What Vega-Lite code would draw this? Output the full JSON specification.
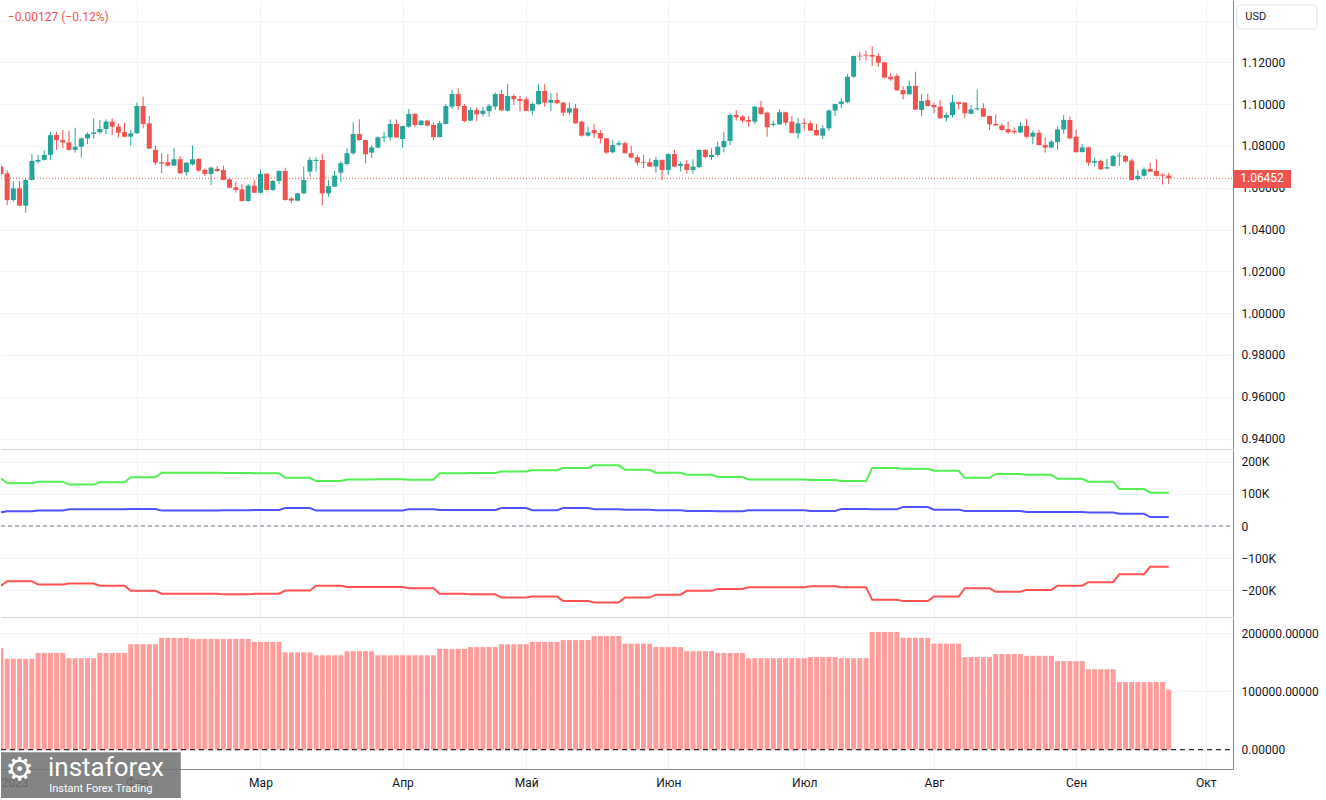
{
"$schema":"https://vega.github.io/schema/vega-lite/v6.json",
"padding":0,
"background":"white",
"spacing":1,
"config":{"view":{"stroke":null},"axis":{"labelFont":"Roboto","labelFontSize":12,"labelColor":"#131722"},"text":{"font":"Roboto"}},
"datasets":{"bars":[
{"i":0,"o":1.0701,"h":1.0713,"l":1.0661,"c":1.0666,"g":149,"b":43,"r":-186,"v":174},
{"i":1,"o":1.0669,"h":1.0683,"l":1.0517,"c":1.0541,"g":133,"b":46,"r":-172,"v":156},
{"i":2,"o":1.0541,"h":1.0632,"l":1.0533,"c":1.0597,"g":133,"b":46,"r":-172,"v":156},
{"i":3,"o":1.0597,"h":1.0632,"l":1.0512,"c":1.0514,"g":133,"b":46,"r":-172,"v":156},
{"i":4,"o":1.0514,"h":1.0645,"l":1.0480,"c":1.0637,"g":133,"b":46,"r":-172,"v":156},
{"i":5,"o":1.0637,"h":1.0761,"l":1.0635,"c":1.0728,"g":133,"b":46,"r":-172,"v":156},
{"i":6,"o":1.0725,"h":1.0757,"l":1.0717,"c":1.0733,"g":138,"b":48,"r":-182,"v":166},
{"i":7,"o":1.0733,"h":1.0778,"l":1.0730,"c":1.0757,"g":138,"b":48,"r":-182,"v":166},
{"i":8,"o":1.0757,"h":1.0868,"l":1.0733,"c":1.0852,"g":138,"b":48,"r":-182,"v":166},
{"i":9,"o":1.0852,"h":1.0868,"l":1.0781,"c":1.0828,"g":138,"b":48,"r":-182,"v":166},
{"i":10,"o":1.0828,"h":1.0876,"l":1.0789,"c":1.0816,"g":138,"b":48,"r":-182,"v":166},
{"i":11,"o":1.0817,"h":1.0873,"l":1.0777,"c":1.0781,"g":129,"b":52,"r":-179,"v":157},
{"i":12,"o":1.0781,"h":1.0887,"l":1.0768,"c":1.0796,"g":129,"b":52,"r":-179,"v":157},
{"i":13,"o":1.0796,"h":1.0841,"l":1.0744,"c":1.0836,"g":129,"b":52,"r":-179,"v":157},
{"i":14,"o":1.0836,"h":1.0865,"l":1.0808,"c":1.0857,"g":129,"b":52,"r":-179,"v":157},
{"i":15,"o":1.0857,"h":1.0932,"l":1.0836,"c":1.0864,"g":129,"b":52,"r":-179,"v":157},
{"i":16,"o":1.0865,"h":1.0924,"l":1.0857,"c":1.0881,"g":136,"b":52,"r":-186,"v":166},
{"i":17,"o":1.0881,"h":1.0927,"l":1.0857,"c":1.0916,"g":136,"b":52,"r":-186,"v":166},
{"i":18,"o":1.0916,"h":1.0932,"l":1.0852,"c":1.0892,"g":136,"b":52,"r":-186,"v":166},
{"i":19,"o":1.0892,"h":1.0908,"l":1.0841,"c":1.0863,"g":136,"b":52,"r":-186,"v":166},
{"i":20,"o":1.0866,"h":1.0911,"l":1.0841,"c":1.0844,"g":136,"b":52,"r":-186,"v":166},
{"i":21,"o":1.0844,"h":1.0876,"l":1.0800,"c":1.0860,"g":152,"b":53,"r":-202,"v":181},
{"i":22,"o":1.0860,"h":1.1007,"l":1.0858,"c":1.0991,"g":152,"b":53,"r":-202,"v":181},
{"i":23,"o":1.0991,"h":1.1036,"l":1.0884,"c":1.0905,"g":152,"b":53,"r":-202,"v":181},
{"i":24,"o":1.0908,"h":1.0943,"l":1.0785,"c":1.0787,"g":152,"b":53,"r":-202,"v":181},
{"i":25,"o":1.0781,"h":1.0801,"l":1.0709,"c":1.0720,"g":152,"b":53,"r":-202,"v":181},
{"i":26,"o":1.0722,"h":1.0765,"l":1.0669,"c":1.0716,"g":166,"b":48,"r":-211,"v":192},
{"i":27,"o":1.0722,"h":1.0761,"l":1.0701,"c":1.0706,"g":166,"b":48,"r":-211,"v":192},
{"i":28,"o":1.0706,"h":1.0790,"l":1.0705,"c":1.0736,"g":166,"b":48,"r":-211,"v":192},
{"i":29,"o":1.0736,"h":1.0752,"l":1.0666,"c":1.0669,"g":166,"b":48,"r":-211,"v":192},
{"i":30,"o":1.0674,"h":1.0722,"l":1.0657,"c":1.0720,"g":166,"b":48,"r":-211,"v":192},
{"i":31,"o":1.0712,"h":1.0803,"l":1.0706,"c":1.0736,"g":166,"b":48,"r":-211,"v":190},
{"i":32,"o":1.0738,"h":1.0741,"l":1.0677,"c":1.0682,"g":166,"b":48,"r":-211,"v":190},
{"i":33,"o":1.0685,"h":1.0693,"l":1.0656,"c":1.0666,"g":166,"b":48,"r":-211,"v":190},
{"i":34,"o":1.0666,"h":1.0701,"l":1.0613,"c":1.0696,"g":166,"b":48,"r":-211,"v":190},
{"i":35,"o":1.0690,"h":1.0704,"l":1.0675,"c":1.0680,"g":166,"b":48,"r":-211,"v":190},
{"i":36,"o":1.0685,"h":1.0706,"l":1.0635,"c":1.0637,"g":165,"b":49,"r":-213,"v":190},
{"i":37,"o":1.0640,"h":1.0642,"l":1.0598,"c":1.0600,"g":165,"b":49,"r":-213,"v":190},
{"i":38,"o":1.0602,"h":1.0629,"l":1.0576,"c":1.0589,"g":165,"b":49,"r":-213,"v":190},
{"i":39,"o":1.0592,"h":1.0616,"l":1.0534,"c":1.0536,"g":165,"b":49,"r":-213,"v":190},
{"i":40,"o":1.0536,"h":1.0618,"l":1.0533,"c":1.0610,"g":165,"b":49,"r":-213,"v":190},
{"i":41,"o":1.0610,"h":1.0637,"l":1.0574,"c":1.0576,"g":164,"b":50,"r":-211,"v":185},
{"i":42,"o":1.0576,"h":1.0688,"l":1.0573,"c":1.0666,"g":164,"b":50,"r":-211,"v":185},
{"i":43,"o":1.0667,"h":1.0669,"l":1.0586,"c":1.0589,"g":164,"b":50,"r":-211,"v":185},
{"i":44,"o":1.0589,"h":1.0637,"l":1.0586,"c":1.0632,"g":164,"b":50,"r":-211,"v":185},
{"i":45,"o":1.0632,"h":1.0682,"l":1.0618,"c":1.0680,"g":164,"b":50,"r":-211,"v":185},
{"i":46,"o":1.0680,"h":1.0696,"l":1.0539,"c":1.0541,"g":150,"b":56,"r":-201,"v":167},
{"i":47,"o":1.0548,"h":1.0557,"l":1.0525,"c":1.0538,"g":150,"b":56,"r":-201,"v":167},
{"i":48,"o":1.0538,"h":1.0576,"l":1.0535,"c":1.0573,"g":150,"b":56,"r":-201,"v":167},
{"i":49,"o":1.0573,"h":1.0701,"l":1.0570,"c":1.0637,"g":150,"b":56,"r":-201,"v":167},
{"i":50,"o":1.0677,"h":1.0746,"l":1.0653,"c":1.0733,"g":150,"b":56,"r":-201,"v":167},
{"i":51,"o":1.0728,"h":1.0746,"l":1.0677,"c":1.0733,"g":140,"b":48,"r":-186,"v":162},
{"i":52,"o":1.0733,"h":1.0761,"l":1.0516,"c":1.0573,"g":140,"b":48,"r":-186,"v":162},
{"i":53,"o":1.0573,"h":1.0637,"l":1.0557,"c":1.0608,"g":140,"b":48,"r":-186,"v":162},
{"i":54,"o":1.0605,"h":1.0682,"l":1.0605,"c":1.0658,"g":140,"b":48,"r":-186,"v":162},
{"i":55,"o":1.0672,"h":1.0728,"l":1.0629,"c":1.0717,"g":140,"b":48,"r":-186,"v":162},
{"i":56,"o":1.0714,"h":1.0789,"l":1.0705,"c":1.0765,"g":145,"b":48,"r":-190,"v":169},
{"i":57,"o":1.0765,"h":1.0913,"l":1.0757,"c":1.0857,"g":145,"b":48,"r":-190,"v":169},
{"i":58,"o":1.0857,"h":1.0927,"l":1.0825,"c":1.0828,"g":145,"b":48,"r":-190,"v":169},
{"i":59,"o":1.0828,"h":1.0830,"l":1.0717,"c":1.0760,"g":145,"b":48,"r":-190,"v":169},
{"i":60,"o":1.0768,"h":1.0804,"l":1.0743,"c":1.0793,"g":145,"b":48,"r":-190,"v":169},
{"i":61,"o":1.0792,"h":1.0847,"l":1.0789,"c":1.0841,"g":146,"b":48,"r":-190,"v":162},
{"i":62,"o":1.0839,"h":1.0868,"l":1.0819,"c":1.0844,"g":146,"b":48,"r":-190,"v":162},
{"i":63,"o":1.0841,"h":1.0927,"l":1.0825,"c":1.0905,"g":146,"b":48,"r":-190,"v":162},
{"i":64,"o":1.0905,"h":1.0927,"l":1.0839,"c":1.0841,"g":146,"b":48,"r":-190,"v":162},
{"i":65,"o":1.0833,"h":1.0897,"l":1.0792,"c":1.0895,"g":146,"b":48,"r":-190,"v":162},
{"i":66,"o":1.0892,"h":1.0977,"l":1.0887,"c":1.0953,"g":144,"b":52,"r":-194,"v":162},
{"i":67,"o":1.0953,"h":1.0957,"l":1.0889,"c":1.0900,"g":144,"b":52,"r":-194,"v":162},
{"i":68,"o":1.0900,"h":1.0923,"l":1.0897,"c":1.0921,"g":144,"b":52,"r":-194,"v":162},
{"i":69,"o":1.0921,"h":1.0924,"l":1.0892,"c":1.0897,"g":144,"b":52,"r":-194,"v":162},
{"i":70,"o":1.0900,"h":1.0913,"l":1.0828,"c":1.0842,"g":144,"b":52,"r":-194,"v":162},
{"i":71,"o":1.0842,"h":1.0921,"l":1.0840,"c":1.0908,"g":164,"b":50,"r":-211,"v":173},
{"i":72,"o":1.0905,"h":1.1001,"l":1.0903,"c":1.0991,"g":164,"b":50,"r":-211,"v":173},
{"i":73,"o":1.0988,"h":1.1068,"l":1.0977,"c":1.1048,"g":164,"b":50,"r":-211,"v":173},
{"i":74,"o":1.1048,"h":1.1076,"l":1.0972,"c":1.0991,"g":164,"b":50,"r":-211,"v":173},
{"i":75,"o":1.0991,"h":1.1001,"l":1.0913,"c":1.0919,"g":164,"b":50,"r":-211,"v":173},
{"i":76,"o":1.0921,"h":1.0985,"l":1.0919,"c":1.0972,"g":165,"b":50,"r":-213,"v":176},
{"i":77,"o":1.0972,"h":1.0985,"l":1.0919,"c":1.0951,"g":165,"b":50,"r":-213,"v":176},
{"i":78,"o":1.0953,"h":1.0987,"l":1.0940,"c":1.0968,"g":165,"b":50,"r":-213,"v":176},
{"i":79,"o":1.0966,"h":1.1001,"l":1.0940,"c":1.0992,"g":165,"b":50,"r":-213,"v":176},
{"i":80,"o":1.0988,"h":1.1055,"l":1.0972,"c":1.1048,"g":165,"b":50,"r":-213,"v":176},
{"i":81,"o":1.1048,"h":1.1068,"l":1.0968,"c":1.0970,"g":170,"b":56,"r":-223,"v":181},
{"i":82,"o":1.0968,"h":1.1096,"l":1.0966,"c":1.1039,"g":170,"b":56,"r":-223,"v":181},
{"i":83,"o":1.1039,"h":1.1048,"l":1.0996,"c":1.1023,"g":170,"b":56,"r":-223,"v":181},
{"i":84,"o":1.1025,"h":1.1039,"l":1.0964,"c":1.1015,"g":170,"b":56,"r":-223,"v":181},
{"i":85,"o":1.1023,"h":1.1036,"l":1.0966,"c":1.0968,"g":170,"b":56,"r":-223,"v":181},
{"i":86,"o":1.0968,"h":1.1007,"l":1.0948,"c":1.1001,"g":174,"b":49,"r":-220,"v":185},
{"i":87,"o":1.1000,"h":1.1096,"l":1.0996,"c":1.1063,"g":174,"b":49,"r":-220,"v":185},
{"i":88,"o":1.1063,"h":1.1096,"l":1.0988,"c":1.1007,"g":174,"b":49,"r":-220,"v":185},
{"i":89,"o":1.1007,"h":1.1052,"l":1.0968,"c":1.1020,"g":174,"b":49,"r":-220,"v":185},
{"i":90,"o":1.1020,"h":1.1055,"l":1.1001,"c":1.1004,"g":174,"b":49,"r":-220,"v":185},
{"i":91,"o":1.1007,"h":1.1009,"l":1.0943,"c":1.0959,"g":181,"b":56,"r":-234,"v":188},
{"i":92,"o":1.0959,"h":1.1007,"l":1.0948,"c":1.0980,"g":181,"b":56,"r":-234,"v":188},
{"i":93,"o":1.0980,"h":1.1001,"l":1.0906,"c":1.0908,"g":181,"b":56,"r":-234,"v":188},
{"i":94,"o":1.0916,"h":1.0920,"l":1.0844,"c":1.0849,"g":181,"b":56,"r":-234,"v":188},
{"i":95,"o":1.0849,"h":1.0892,"l":1.0844,"c":1.0865,"g":181,"b":56,"r":-234,"v":188},
{"i":96,"o":1.0876,"h":1.0905,"l":1.0838,"c":1.0860,"g":189,"b":52,"r":-238,"v":195},
{"i":97,"o":1.0862,"h":1.0876,"l":1.0812,"c":1.0836,"g":189,"b":52,"r":-238,"v":195},
{"i":98,"o":1.0836,"h":1.0838,"l":1.0763,"c":1.0768,"g":189,"b":52,"r":-238,"v":195},
{"i":99,"o":1.0770,"h":1.0828,"l":1.0765,"c":1.0804,"g":189,"b":52,"r":-238,"v":195},
{"i":100,"o":1.0806,"h":1.0825,"l":1.0800,"c":1.0813,"g":189,"b":52,"r":-238,"v":195},
{"i":101,"o":1.0813,"h":1.0820,"l":1.0763,"c":1.0765,"g":175,"b":51,"r":-223,"v":182},
{"i":102,"o":1.0765,"h":1.0800,"l":1.0741,"c":1.0744,"g":175,"b":51,"r":-223,"v":182},
{"i":103,"o":1.0746,"h":1.0757,"l":1.0706,"c":1.0720,"g":175,"b":51,"r":-223,"v":182},
{"i":104,"o":1.0724,"h":1.0757,"l":1.0693,"c":1.0720,"g":175,"b":51,"r":-223,"v":182},
{"i":105,"o":1.0722,"h":1.0741,"l":1.0699,"c":1.0701,"g":175,"b":51,"r":-223,"v":182},
{"i":106,"o":1.0701,"h":1.0749,"l":1.0672,"c":1.0733,"g":166,"b":49,"r":-214,"v":176},
{"i":107,"o":1.0733,"h":1.0735,"l":1.0635,"c":1.0685,"g":166,"b":49,"r":-214,"v":176},
{"i":108,"o":1.0685,"h":1.0765,"l":1.0661,"c":1.0761,"g":166,"b":49,"r":-214,"v":176},
{"i":109,"o":1.0761,"h":1.0781,"l":1.0700,"c":1.0701,"g":166,"b":49,"r":-214,"v":176},
{"i":110,"o":1.0704,"h":1.0725,"l":1.0677,"c":1.0714,"g":166,"b":49,"r":-214,"v":176},
{"i":111,"o":1.0714,"h":1.0733,"l":1.0666,"c":1.0685,"g":160,"b":47,"r":-202,"v":169},
{"i":112,"o":1.0685,"h":1.0736,"l":1.0666,"c":1.0701,"g":160,"b":47,"r":-202,"v":169},
{"i":113,"o":1.0698,"h":1.0784,"l":1.0693,"c":1.0781,"g":160,"b":47,"r":-202,"v":169},
{"i":114,"o":1.0781,"h":1.0785,"l":1.0741,"c":1.0747,"g":160,"b":47,"r":-202,"v":169},
{"i":115,"o":1.0747,"h":1.0788,"l":1.0733,"c":1.0757,"g":160,"b":47,"r":-202,"v":169},
{"i":116,"o":1.0757,"h":1.0820,"l":1.0749,"c":1.0796,"g":153,"b":46,"r":-196,"v":166},
{"i":117,"o":1.0794,"h":1.0868,"l":1.0769,"c":1.0824,"g":153,"b":46,"r":-196,"v":166},
{"i":118,"o":1.0824,"h":1.0956,"l":1.0804,"c":1.0948,"g":153,"b":46,"r":-196,"v":166},
{"i":119,"o":1.0948,"h":1.0972,"l":1.0921,"c":1.0937,"g":153,"b":46,"r":-196,"v":166},
{"i":120,"o":1.0940,"h":1.0948,"l":1.0911,"c":1.0921,"g":153,"b":46,"r":-196,"v":166},
{"i":121,"o":1.0924,"h":1.0943,"l":1.0892,"c":1.0916,"g":145,"b":49,"r":-191,"v":157},
{"i":122,"o":1.0916,"h":1.0991,"l":1.0905,"c":1.0988,"g":145,"b":49,"r":-191,"v":157},
{"i":123,"o":1.0985,"h":1.1015,"l":1.0948,"c":1.0953,"g":145,"b":49,"r":-191,"v":157},
{"i":124,"o":1.0959,"h":1.0964,"l":1.0844,"c":1.0889,"g":145,"b":49,"r":-191,"v":157},
{"i":125,"o":1.0900,"h":1.0921,"l":1.0892,"c":1.0906,"g":145,"b":49,"r":-191,"v":157},
{"i":126,"o":1.0903,"h":1.0975,"l":1.0900,"c":1.0961,"g":145,"b":49,"r":-191,"v":157},
{"i":127,"o":1.0961,"h":1.0964,"l":1.0897,"c":1.0911,"g":145,"b":49,"r":-191,"v":157},
{"i":128,"o":1.0916,"h":1.0943,"l":1.0860,"c":1.0862,"g":145,"b":49,"r":-191,"v":157},
{"i":129,"o":1.0860,"h":1.0932,"l":1.0836,"c":1.0908,"g":145,"b":49,"r":-191,"v":157},
{"i":130,"o":1.0911,"h":1.0932,"l":1.0873,"c":1.0906,"g":145,"b":49,"r":-191,"v":157},
{"i":131,"o":1.0908,"h":1.0921,"l":1.0871,"c":1.0873,"g":143,"b":47,"r":-188,"v":159},
{"i":132,"o":1.0876,"h":1.0905,"l":1.0849,"c":1.0851,"g":143,"b":47,"r":-188,"v":159},
{"i":133,"o":1.0849,"h":1.0900,"l":1.0833,"c":1.0884,"g":143,"b":47,"r":-188,"v":159},
{"i":134,"o":1.0884,"h":1.0975,"l":1.0871,"c":1.0969,"g":143,"b":47,"r":-188,"v":159},
{"i":135,"o":1.0969,"h":1.1001,"l":1.0943,"c":1.1001,"g":143,"b":47,"r":-188,"v":159},
{"i":136,"o":1.1001,"h":1.1028,"l":1.0980,"c":1.1012,"g":140,"b":53,"r":-191,"v":157},
{"i":137,"o":1.1009,"h":1.1144,"l":1.1004,"c":1.1131,"g":140,"b":53,"r":-191,"v":157},
{"i":138,"o":1.1131,"h":1.1232,"l":1.1126,"c":1.1230,"g":140,"b":53,"r":-191,"v":157},
{"i":139,"o":1.1232,"h":1.1251,"l":1.1208,"c":1.1228,"g":140,"b":53,"r":-191,"v":157},
{"i":140,"o":1.1236,"h":1.1256,"l":1.1208,"c":1.1232,"g":140,"b":53,"r":-191,"v":157},
{"i":141,"o":1.1235,"h":1.1278,"l":1.1182,"c":1.1227,"g":181,"b":52,"r":-230,"v":202},
{"i":142,"o":1.1230,"h":1.1243,"l":1.1179,"c":1.1198,"g":181,"b":52,"r":-230,"v":202},
{"i":143,"o":1.1200,"h":1.1202,"l":1.1123,"c":1.1127,"g":181,"b":52,"r":-230,"v":202},
{"i":144,"o":1.1131,"h":1.1147,"l":1.1112,"c":1.1119,"g":181,"b":52,"r":-230,"v":202},
{"i":145,"o":1.1135,"h":1.1147,"l":1.1064,"c":1.1066,"g":181,"b":52,"r":-230,"v":202},
{"i":146,"o":1.1067,"h":1.1087,"l":1.1023,"c":1.1047,"g":178,"b":59,"r":-234,"v":192},
{"i":147,"o":1.1047,"h":1.1112,"l":1.1044,"c":1.1087,"g":178,"b":59,"r":-234,"v":192},
{"i":148,"o":1.1087,"h":1.1155,"l":1.0972,"c":1.0974,"g":178,"b":59,"r":-234,"v":192},
{"i":149,"o":1.0972,"h":1.1049,"l":1.0943,"c":1.1015,"g":178,"b":59,"r":-234,"v":192},
{"i":150,"o":1.1019,"h":1.1049,"l":1.0988,"c":1.0991,"g":178,"b":59,"r":-234,"v":192},
{"i":151,"o":1.0996,"h":1.1007,"l":1.0956,"c":1.0985,"g":172,"b":51,"r":-220,"v":182},
{"i":152,"o":1.0988,"h":1.1020,"l":1.0930,"c":1.0932,"g":172,"b":51,"r":-220,"v":182},
{"i":153,"o":1.0935,"h":1.0961,"l":1.0916,"c":1.0948,"g":172,"b":51,"r":-220,"v":182},
{"i":154,"o":1.0948,"h":1.1044,"l":1.0937,"c":1.1009,"g":172,"b":51,"r":-220,"v":182},
{"i":155,"o":1.1009,"h":1.1012,"l":1.0974,"c":1.1001,"g":172,"b":51,"r":-220,"v":182},
{"i":156,"o":1.1007,"h":1.1009,"l":1.0932,"c":1.0956,"g":150,"b":47,"r":-194,"v":159},
{"i":157,"o":1.0954,"h":1.0996,"l":1.0951,"c":1.0975,"g":150,"b":47,"r":-194,"v":159},
{"i":158,"o":1.0975,"h":1.1068,"l":1.0969,"c":1.0980,"g":150,"b":47,"r":-194,"v":159},
{"i":159,"o":1.0980,"h":1.1004,"l":1.0938,"c":1.0940,"g":150,"b":47,"r":-194,"v":159},
{"i":160,"o":1.0943,"h":1.0945,"l":1.0876,"c":1.0903,"g":150,"b":47,"r":-194,"v":159},
{"i":161,"o":1.0905,"h":1.0951,"l":1.0895,"c":1.0898,"g":162,"b":47,"r":-205,"v":164},
{"i":162,"o":1.0898,"h":1.0908,"l":1.0873,"c":1.0876,"g":162,"b":47,"r":-205,"v":164},
{"i":163,"o":1.0880,"h":1.0916,"l":1.0857,"c":1.0865,"g":162,"b":47,"r":-205,"v":164},
{"i":164,"o":1.0872,"h":1.0888,"l":1.0857,"c":1.0865,"g":162,"b":47,"r":-205,"v":164},
{"i":165,"o":1.0864,"h":1.0913,"l":1.0862,"c":1.0895,"g":162,"b":47,"r":-205,"v":164},
{"i":166,"o":1.0895,"h":1.0929,"l":1.0836,"c":1.0844,"g":160,"b":44,"r":-199,"v":161},
{"i":167,"o":1.0844,"h":1.0873,"l":1.0808,"c":1.0863,"g":160,"b":44,"r":-199,"v":161},
{"i":168,"o":1.0863,"h":1.0876,"l":1.0802,"c":1.0804,"g":160,"b":44,"r":-199,"v":161},
{"i":169,"o":1.0804,"h":1.0841,"l":1.0768,"c":1.0792,"g":160,"b":44,"r":-199,"v":161},
{"i":170,"o":1.0792,"h":1.0828,"l":1.0789,"c":1.0820,"g":160,"b":44,"r":-199,"v":161},
{"i":171,"o":1.0818,"h":1.0892,"l":1.0781,"c":1.0879,"g":147,"b":44,"r":-186,"v":152},
{"i":172,"o":1.0879,"h":1.0948,"l":1.0857,"c":1.0924,"g":147,"b":44,"r":-186,"v":152},
{"i":173,"o":1.0924,"h":1.0940,"l":1.0831,"c":1.0836,"g":147,"b":44,"r":-186,"v":152},
{"i":174,"o":1.0844,"h":1.0879,"l":1.0768,"c":1.0770,"g":147,"b":44,"r":-186,"v":152},
{"i":175,"o":1.0771,"h":1.0808,"l":1.0768,"c":1.0793,"g":147,"b":44,"r":-186,"v":152},
{"i":176,"o":1.0793,"h":1.0796,"l":1.0705,"c":1.0720,"g":138,"b":42,"r":-175,"v":138},
{"i":177,"o":1.0720,"h":1.0744,"l":1.0701,"c":1.0728,"g":138,"b":42,"r":-175,"v":138},
{"i":178,"o":1.0728,"h":1.0735,"l":1.0685,"c":1.0688,"g":138,"b":42,"r":-175,"v":138},
{"i":179,"o":1.0692,"h":1.0739,"l":1.0688,"c":1.0698,"g":138,"b":42,"r":-175,"v":138},
{"i":180,"o":1.0704,"h":1.0757,"l":1.0701,"c":1.0752,"g":138,"b":42,"r":-175,"v":138},
{"i":181,"o":1.0750,"h":1.0768,"l":1.0705,"c":1.0754,"g":115,"b":38,"r":-150,"v":116},
{"i":182,"o":1.0752,"h":1.0757,"l":1.0720,"c":1.0725,"g":115,"b":38,"r":-150,"v":116},
{"i":183,"o":1.0730,"h":1.0738,"l":1.0634,"c":1.0637,"g":115,"b":38,"r":-150,"v":116},
{"i":184,"o":1.0641,"h":1.0685,"l":1.0634,"c":1.0657,"g":115,"b":38,"r":-150,"v":116},
{"i":185,"o":1.0657,"h":1.0697,"l":1.0654,"c":1.0688,"g":115,"b":38,"r":-150,"v":116},
{"i":186,"o":1.0690,"h":1.0720,"l":1.0675,"c":1.0677,"g":104,"b":28,"r":-127,"v":116},
{"i":187,"o":1.0680,"h":1.0737,"l":1.0654,"c":1.0657,"g":104,"b":28,"r":-127,"v":116},
{"i":188,"o":1.0663,"h":1.0668,"l":1.0615,"c":1.0658,"g":104,"b":28,"r":-127,"v":116},
{"i":189,"o":1.0658,"h":1.0671,"l":1.0617,"c":1.06452,"g":104,"b":28,"r":-127,"v":103}
]},
"vconcat":[
{
"width":1232,"height":449,
"layer":[
{"data":{"values":[{}]},"mark":{"type":"rule","color":"#ef5350","strokeDash":[1,2],"strokeWidth":1},
 "encoding":{
  "x":{"datum":0,"type":"quantitative","scale":{"domain":[0,199.4],"nice":false,"zero":false,"padding":0},
   "axis":{"values":[22,42,65,85,108,130,151,174,195],"labels":false,"ticks":false,"domain":true,"domainColor":"#d1d4dc","grid":true,"gridColor":"#f0f3fa","title":null}},
  "x2":{"datum":199.4},
  "y":{"datum":1.06452,"type":"quantitative","scale":{"domain":[0.93498,1.14981],"nice":false,"zero":false,"padding":0},
   "axis":{"orient":"right","values":[0.94,0.96,0.98,1.0,1.02,1.04,1.06,1.08,1.1,1.12,1.14],"labelExpr":"datum.value > 1.13 ? '' : format(datum.value, '.5f')","ticks":false,"domain":true,"domainColor":"#868993","grid":true,"gridColor":"#f0f3fa","labelPadding":8,"title":null}}
 }},
{"data":{"name":"bars"},"mark":{"type":"rule","strokeWidth":1,"clip":true},
 "encoding":{
  "x":{"field":"i","type":"quantitative","scale":{"domain":[0,199.4],"nice":false,"zero":false,"padding":0}},
  "y":{"field":"l","type":"quantitative","scale":{"domain":[0.93498,1.14981],"nice":false,"zero":false,"padding":0}},
  "y2":{"field":"h"},
  "color":{"condition":{"test":"datum.c >= datum.o","value":"#26a69a"},"value":"#ef5350"}
 }},
{"data":{"name":"bars"},"mark":{"type":"bar","size":5,"clip":true},
 "encoding":{
  "x":{"field":"i","type":"quantitative","scale":{"domain":[0,199.4],"nice":false,"zero":false,"padding":0}},
  "y":{"field":"o","type":"quantitative","scale":{"domain":[0.93498,1.14981],"nice":false,"zero":false,"padding":0}},
  "y2":{"field":"c"},
  "color":{"condition":{"test":"datum.c >= datum.o","value":"#26a69a"},"value":"#ef5350"}
 }},
{"data":{"values":[{"t":"−0.00127 (−0.12%)"}]},"mark":{"type":"text","align":"left","baseline":"middle","fontSize":12,"color":"#ef5350"},
 "encoding":{
  "x":{"datum":1.1,"type":"quantitative","scale":{"domain":[0,199.4],"nice":false,"zero":false,"padding":0}},
  "y":{"datum":1.1417,"type":"quantitative","scale":{"domain":[0.93498,1.14981],"nice":false,"zero":false,"padding":0}},
  "text":{"field":"t"}
 }},
{"data":{"values":[{}]},"mark":{"type":"rect","color":"#ef5350","clip":false},
 "encoding":{
  "x":{"datum":199.4,"type":"quantitative","scale":{"domain":[0,199.4],"nice":false,"zero":false,"padding":0}},
  "x2":{"datum":208.8},
  "y":{"datum":1.0685,"type":"quantitative","scale":{"domain":[0.93498,1.14981],"nice":false,"zero":false,"padding":0}},
  "y2":{"datum":1.0599}
 }},
{"data":{"values":[{"t":"1.06452"}]},"mark":{"type":"text","align":"center","baseline":"middle","fontSize":12,"color":"white","clip":false},
 "encoding":{
  "x":{"datum":204.1,"type":"quantitative","scale":{"domain":[0,199.4],"nice":false,"zero":false,"padding":0}},
  "y":{"datum":1.06452,"type":"quantitative","scale":{"domain":[0.93498,1.14981],"nice":false,"zero":false,"padding":0}},
  "text":{"field":"t"}
 }},
{"data":{"values":[{}]},"mark":{"type":"rect","fill":"white","stroke":"#e0e3eb","strokeWidth":1,"cornerRadius":4,"clip":false},
 "encoding":{
  "x":{"datum":200.0,"type":"quantitative","scale":{"domain":[0,199.4],"nice":false,"zero":false,"padding":0}},
  "x2":{"datum":213.0},
  "y":{"datum":1.1474,"type":"quantitative","scale":{"domain":[0.93498,1.14981],"nice":false,"zero":false,"padding":0}},
  "y2":{"datum":1.1359}
 }},
{"data":{"values":[{"t":"USD"}]},"mark":{"type":"text","align":"left","baseline":"middle","fontSize":11,"color":"#131722","clip":false},
 "encoding":{
  "x":{"datum":201.4,"type":"quantitative","scale":{"domain":[0,199.4],"nice":false,"zero":false,"padding":0}},
  "y":{"datum":1.1417,"type":"quantitative","scale":{"domain":[0.93498,1.14981],"nice":false,"zero":false,"padding":0}},
  "text":{"field":"t"}
 }}
]
},
{
"width":1232,"height":167,
"layer":[
{"data":{"values":[{}]},"mark":{"type":"rule","color":"#787b86","strokeDash":[4,3],"strokeWidth":1},
 "encoding":{
  "x":{"datum":0,"type":"quantitative","scale":{"domain":[0,199.4],"nice":false,"zero":false,"padding":0},
   "axis":{"values":[22,42,65,85,108,130,151,174,195],"labels":false,"ticks":false,"domain":true,"domainColor":"#d1d4dc","grid":true,"gridColor":"#f0f3fa","title":null}},
  "x2":{"datum":199.4},
  "y":{"datum":0,"type":"quantitative","scale":{"domain":[-283.5,236.8],"nice":false,"zero":false,"padding":0},
   "axis":{"orient":"right","values":[-200,-100,0,100,200],"labelExpr":"datum.value === 0 ? '0' : (datum.value < 0 ? '−' : '') + format(abs(datum.value), 'd') + 'K'","ticks":false,"domain":true,"domainColor":"#868993","grid":true,"gridColor":"#f0f3fa","labelPadding":8,"title":null}}
 }},
{"data":{"name":"bars"},"mark":{"type":"line","strokeWidth":2,"color":"#52ee52","clip":true},
 "encoding":{
  "x":{"field":"i","type":"quantitative","scale":{"domain":[0,199.4],"nice":false,"zero":false,"padding":0}},
  "y":{"field":"g","type":"quantitative","scale":{"domain":[-283.5,236.8],"nice":false,"zero":false,"padding":0}}
 }},
{"data":{"name":"bars"},"mark":{"type":"line","strokeWidth":2,"color":"#5252ff","clip":true},
 "encoding":{
  "x":{"field":"i","type":"quantitative","scale":{"domain":[0,199.4],"nice":false,"zero":false,"padding":0}},
  "y":{"field":"b","type":"quantitative","scale":{"domain":[-283.5,236.8],"nice":false,"zero":false,"padding":0}}
 }},
{"data":{"name":"bars"},"mark":{"type":"line","strokeWidth":2,"color":"#ff5252","clip":true},
 "encoding":{
  "x":{"field":"i","type":"quantitative","scale":{"domain":[0,199.4],"nice":false,"zero":false,"padding":0}},
  "y":{"field":"r","type":"quantitative","scale":{"domain":[-283.5,236.8],"nice":false,"zero":false,"padding":0}}
 }}
]
},
{
"width":1232,"height":151,
"layer":[
{"data":{"name":"bars"},"mark":{"type":"bar","size":5,"color":"#ff9c9c","clip":true},
 "encoding":{
  "x":{"field":"i","type":"quantitative","scale":{"domain":[0,199.4],"nice":false,"zero":false,"padding":0},
   "axis":{"values":[0,22,42,65,85,108,130,151,174,195],"labelExpr":"['2023','Фев','Мар','Апр','Май','Июн','Июл','Авг','Сен','Окт'][indexof([0,22,42,65,85,108,130,151,174,195], datum.value)]","labelFlush":true,"labelOverlap":false,"ticks":false,"domain":true,"domainColor":"#868993","grid":true,"gridColor":{"condition":{"test":"datum.value === 0","value":"transparent"},"value":"#f0f3fa"},"labelPadding":8,"title":null}},
  "y":{"field":"v","type":"quantitative","scale":{"domain":[-33.1,225.9],"nice":false,"zero":false,"padding":0},
   "axis":{"orient":"right","values":[0,100,200],"labelExpr":"format(datum.value * 1000, '.5f')","ticks":false,"domain":true,"domainColor":"#868993","grid":true,"gridColor":"#f0f3fa","labelPadding":8,"title":null}},
  "y2":{"datum":0}
 }},
{"data":{"values":[{}]},"mark":{"type":"rule","color":"#000000","strokeDash":[5,4],"strokeWidth":1},
 "encoding":{
  "x":{"datum":0,"type":"quantitative","scale":{"domain":[0,199.4],"nice":false,"zero":false,"padding":0}},
  "x2":{"datum":199.4},
  "y":{"datum":0,"type":"quantitative","scale":{"domain":[-33.1,225.9],"nice":false,"zero":false,"padding":0}}
 }},
{"data":{"values":[{}]},"mark":{"type":"rect","color":"#737373","opacity":0.88,"clip":false},
 "encoding":{
  "x":{"datum":0,"type":"quantitative","scale":{"domain":[0,199.4],"nice":false,"zero":false,"padding":0}},
  "x2":{"datum":29.1},
  "y":{"datum":-4.5,"type":"quantitative","scale":{"domain":[-33.1,225.9],"nice":false,"zero":false,"padding":0}},
  "y2":{"datum":-82.8}
 }},
{"data":{"values":[{"t":"⚙"}]},"mark":{"type":"text","align":"center","baseline":"middle","fontSize":32,"font":"DejaVu Sans","color":"white","clip":false},
 "encoding":{
  "x":{"datum":3.0,"type":"quantitative","scale":{"domain":[0,199.4],"nice":false,"zero":false,"padding":0}},
  "y":{"datum":-34,"type":"quantitative","scale":{"domain":[-33.1,225.9],"nice":false,"zero":false,"padding":0}},
  "text":{"field":"t"}
 }},
{"data":{"values":[{"t":"instaforex"}]},"mark":{"type":"text","align":"left","baseline":"middle","fontSize":26,"color":"white","clip":false},
 "encoding":{
  "x":{"datum":7.6,"type":"quantitative","scale":{"domain":[0,199.4],"nice":false,"zero":false,"padding":0}},
  "y":{"datum":-32,"type":"quantitative","scale":{"domain":[-33.1,225.9],"nice":false,"zero":false,"padding":0}},
  "text":{"field":"t"}
 }},
{"data":{"values":[{"t":"Instant Forex Trading"}]},"mark":{"type":"text","align":"left","baseline":"middle","fontSize":11,"color":"white","clip":false},
 "encoding":{
  "x":{"datum":7.8,"type":"quantitative","scale":{"domain":[0,199.4],"nice":false,"zero":false,"padding":0}},
  "y":{"datum":-67,"type":"quantitative","scale":{"domain":[-33.1,225.9],"nice":false,"zero":false,"padding":0}},
  "text":{"field":"t"}
 }}
]
}
]
}
